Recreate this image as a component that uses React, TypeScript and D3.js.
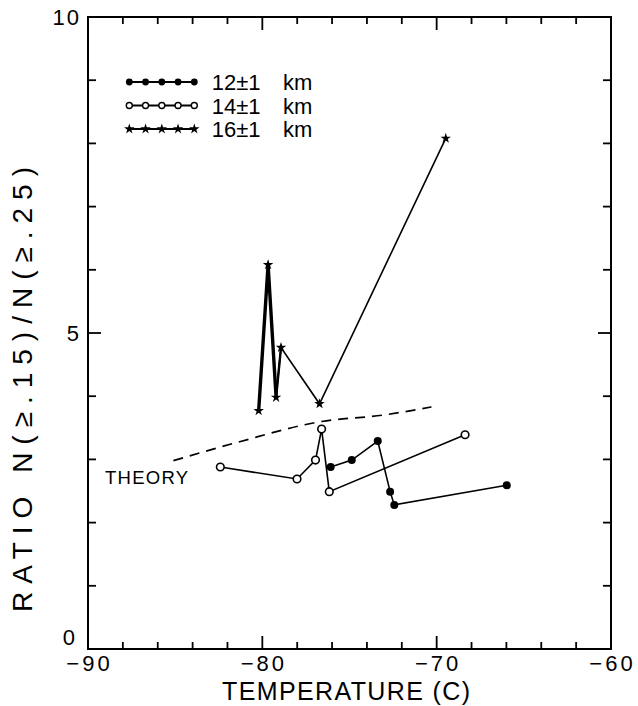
import React from "react";
import * as d3 from "d3";

// 12±1 km (filled circles)
const t12 = [-76.08, -74.87, -73.38, -72.67, -72.43, -65.98];
const r12 = [2.88, 2.99, 3.29, 2.49, 2.28, 2.59];
// 14±1 km (open circles)
const t14 = [-82.41, -78.01, -76.95, -76.6, -76.16, -68.37];
const r14 = [2.88, 2.69, 2.99, 3.48, 2.49, 3.39];
// 16±1 km (stars)
const t16 = [-80.21, -79.67, -79.21, -78.93, -76.72, -69.48];
const r16 = [3.77, 6.08, 3.98, 4.77, 3.88, 8.08];
// theory curve
const tTheory = [-85.1, -81.3, -76.6, -73.1, -70.3];
const rTheory = [2.98, 3.28, 3.6, 3.7, 3.83];

const xTickLabels = [-90, -80, -70, -60];
const yTickLabels = [0, 5, 10];
const legendLabels = ["12\u00b11", "14\u00b11", "16\u00b11"];

const W = 638;
const H = 706;
const FONT = "'Liberation Sans', Arial, sans-serif";

export default function App() {
  const x = d3.scaleLinear().domain([-90, -60]).range([88, 611]);
  const y = d3.scaleLinear().domain([0, 10]).range([649, 17]);
  const line = d3.line<[number, number]>().x((d) => x(d[0])).y((d) => y(d[1]));
  const curve = d3
    .line<[number, number]>()
    .x((d) => x(d[0]))
    .y((d) => y(d[1]))
    .curve(d3.curveMonotoneX);

  const s12: [number, number][] = t12.map((t, i) => [t, r12[i]]);
  const s14: [number, number][] = t14.map((t, i) => [t, r14[i]]);
  const s16: [number, number][] = t16.map((t, i) => [t, r16[i]]);
  const th: [number, number][] = tTheory.map((t, i) => [t, rTheory[i]]);

  const star = d3.symbol(d3.symbolStar, 34)() as string;
  const [x0, x1] = x.range();
  const [yb, yt] = y.range();

  const xTicks = d3.range(-88, -60, 2);
  const yTicks = d3.range(1, 10, 1);

  const legendX = d3.range(5).map((i) => 129.3 + i * 16.25);
  const legendY = [82, 105.5, 129];

  return (
    <svg
      width={W}
      height={H}
      style={{ position: "absolute", left: 0, top: 0, background: "#fff" }}
      fontFamily={FONT}
    >
      <rect x={0} y={0} width={W} height={H} fill="#fff" />
      {/* frame */}
      <rect x={x0} y={yt} width={x1 - x0} height={yb - yt} fill="none" stroke="#000" strokeWidth={2} />
      {xTicks.map((t) => {
        const len = t % 10 === 0 ? 13 : 7;
        return (
          <g key={"xt" + t}>
            <line x1={x(t)} x2={x(t)} y1={yb} y2={yb - len} stroke="#000" strokeWidth={1.8} />
            <line x1={x(t)} x2={x(t)} y1={yt} y2={yt + len} stroke="#000" strokeWidth={1.8} />
          </g>
        );
      })}
      {yTicks.map((v) => {
        const len = v % 5 === 0 ? 13 : 8;
        return (
          <g key={"yt" + v}>
            <line x1={x0} x2={x0 + len} y1={y(v)} y2={y(v)} stroke="#000" strokeWidth={1.8} />
            <line x1={x1} x2={x1 - len} y1={y(v)} y2={y(v)} stroke="#000" strokeWidth={1.8} />
          </g>
        );
      })}
      {xTickLabels.map((t) => (
        <text
          key={"xl" + t}
          x={x(t) + 1.5}
          y={670.5}
          fontSize={22}
          letterSpacing={3}
          textAnchor="middle"
        >
          {"\u2212" + Math.abs(t)}
        </text>
      ))}
      {yTickLabels.map((v) => (
        <text
          key={"yl" + v}
          x={v === 0 ? 77 : 81}
          y={v === 0 ? 645 : y(v) + 8}
          fontSize={22}
          letterSpacing={2}
          textAnchor="end"
        >
          {v}
        </text>
      ))}
      <text x={222} y={699.5} fontSize={25} textLength={248} lengthAdjust="spacing">
        TEMPERATURE (C)
      </text>
      <text
        transform="translate(32,612) rotate(-90)"
        fontSize={28}
        textLength={445}
        lengthAdjust="spacing"
      >
        {"RATIO N(\u2265.15)/N(\u2265.25)"}
      </text>

      {/* theory */}
      <path d={curve(th) as string} fill="none" stroke="#000" strokeWidth={1.7} strokeDasharray="10,7" />
      <text x={105} y={483.5} fontSize={18.5} textLength={83} lengthAdjust="spacing">
        THEORY
      </text>

      {/* 16 km stars */}
      <path d={line(s16) as string} fill="none" stroke="#000" strokeWidth={1.6} />
      <path d={line(s16.slice(0, 3)) as string} fill="none" stroke="#000" strokeWidth={3.4} strokeLinejoin="miter" />
      <path d={line(s16.slice(2, 4)) as string} fill="none" stroke="#000" strokeWidth={2.4} />
      {s16.map((d, i) => (
        <path key={"s" + i} d={star} transform={`translate(${x(d[0])},${y(d[1])})`} fill="#000" />
      ))}

      {/* 14 km open circles */}
      <path d={line(s14) as string} fill="none" stroke="#000" strokeWidth={1.6} />
      {s14.map((d, i) => (
        <circle key={"o" + i} cx={x(d[0])} cy={y(d[1])} r={3.8} fill="#fff" stroke="#000" strokeWidth={1.6} />
      ))}

      {/* 12 km filled circles */}
      <path d={line(s12) as string} fill="none" stroke="#000" strokeWidth={1.6} />
      {s12.map((d, i) => (
        <circle key={"f" + i} cx={x(d[0])} cy={y(d[1])} r={4} fill="#000" />
      ))}

      {/* legend */}
      {legendY.map((ly, k) => (
        <g key={"lg" + k}>
          <line x1={legendX[0]} x2={legendX[4]} y1={ly} y2={ly} stroke="#000" strokeWidth={1.8} />
          {legendX.map((lx, i) =>
            k === 0 ? (
              <circle key={i} cx={lx} cy={ly} r={3.4} fill="#000" />
            ) : k === 1 ? (
              <circle key={i} cx={lx} cy={ly} r={3} fill="#fff" stroke="#000" strokeWidth={1.4} />
            ) : (
              <path key={i} d={star} transform={`translate(${lx},${ly})`} fill="#000" />
            )
          )}
          <text x={211.7} y={ly + 8} fontSize={22}>
            {legendLabels[k]}
          </text>
          <text x={283} y={ly + 8} fontSize={22}>
            km
          </text>
        </g>
      ))}
    </svg>
  );
}
